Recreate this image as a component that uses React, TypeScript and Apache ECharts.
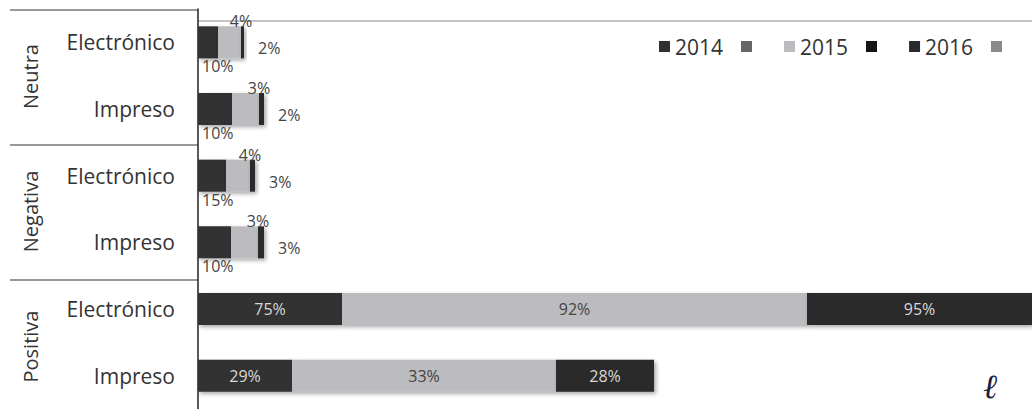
import React, { useEffect, useRef } from "react";
import * as echarts from "echarts";

// Categories (top to bottom)
const groups = ["Neutra", "Negativa", "Positiva"];
const categories = ["Electrónico", "Impreso", "Electrónico", "Impreso", "Electrónico", "Impreso"];
const seriesNames = ["2014", "2015", "2016"];

// Segment lengths (arbitrary units)
const len2014 = [20, 34, 28, 33, 144, 94];
const len2015 = [23, 27, 24, 27, 465, 264];
const len2016 = [3, 5, 5, 6, 242, 98];

// Printed percentage labels
const pct2014 = [10, 10, 15, 10, 75, 29];
const pct2015 = [4, 3, 4, 3, 92, 33];
const pct2016 = [2, 2, 3, 3, 95, 28];

const lens = [len2014, len2015, len2016];
const pcts = [pct2014, pct2015, pct2016];

const FONT = "Open Sans";
const colors = ["#303033", "#bcbcc0", "#2a2a2c"];
const blankColors = ["#666666", "#151515", "#8a8a8a"];
const insideLabelColors = ["#d8d8d8", "#444444", "#d8d8d8"];

const W = 1032;
const H = 409;
const GRID_LEFT = 198;
const GRID_TOP = 9;
const GRID_H = 405;
const X_MAX = W - GRID_LEFT;
const LEGEND_LEFT = 654;
const LEGEND_STEP = 125;

function smallLabel(si: number) {
  const base = { show: true, color: "#444", fontSize: 16, fontFamily: FONT };
  if (si === 0) {
    return { ...base, position: [4, "100%"], align: "left", verticalAlign: "top" };
  }
  if (si === 1) {
    return { ...base, position: ["100%", 0], align: "center", verticalAlign: "bottom", offset: [0, 3] };
  }
  return { ...base, position: "right", distance: 14, offset: [0, 6] };
}

export default function App() {
  const ref = useRef<HTMLDivElement>(null);

  useEffect(() => {
    document.body.style.margin = "0";
    const chart = echarts.init(ref.current!, null, { renderer: "svg" });

    const series: any[] = seriesNames.map((name, si) => ({
      name,
      type: "bar",
      stack: "total",
      barWidth: 32,
      itemStyle: {
        color: colors[si],
        shadowColor: "rgba(0,0,0,0.35)",
        shadowBlur: 4,
        shadowOffsetX: 2,
        shadowOffsetY: 2,
      },
      label: {
        show: true,
        formatter: (p: any) => pcts[si][p.dataIndex] + "%",
      },
      data: lens[si].map((v) => ({
        value: v,
        label:
          v < 60
            ? smallLabel(si)
            : {
                show: true,
                position: "inside",
                color: insideLabelColors[si],
                fontSize: 16,
                fontFamily: FONT,
              },
      })),
    }));

    const band = GRID_H / categories.length;
    const graphics: any[] = [];
    for (let k = 0; k < groups.length; k++) {
      const y = GRID_TOP + 1 + k * band * 2;
      graphics.push({
        type: "line",
        shape: { x1: 10, y1: y, x2: GRID_LEFT, y2: y },
        style: { stroke: "#333", lineWidth: 1.2 },
      });
      graphics.push({
        type: "text",
        x: 30,
        y: GRID_TOP + band * (2 * k + 1),
        rotation: Math.PI / 2,
        style: {
          text: groups[k],
          fontSize: 20,
          fontFamily: FONT,
          fill: "#333",
          textAlign: "center",
          textVerticalAlign: "middle",
        },
      });
    }
    // unnamed legend swatches that follow each named entry
    blankColors.forEach((c, i) => {
      graphics.push({
        type: "rect",
        shape: { x: LEGEND_LEFT + 87 + i * LEGEND_STEP, y: 41, width: 11, height: 11 },
        style: { fill: c },
      });
    });
    graphics.push({
      type: "line",
      shape: { x1: GRID_LEFT, y1: 21, x2: W, y2: 21 },
      style: { stroke: "#8a8a8a", lineWidth: 1 },
    });
    graphics.push({
      type: "text",
      x: 990,
      y: 386,
      style: {
        text: "ℓ",
        fontSize: 34,
        fontStyle: "italic",
        fontFamily: "DejaVu Serif",
        fill: "#1c1c40",
        textAlign: "center",
        textVerticalAlign: "middle",
      },
    });

    chart.setOption({
      animation: false,
      backgroundColor: "#ffffff",
      legend: {
        data: seriesNames,
        left: LEGEND_LEFT,
        top: 31,
        width: 420,
        icon: "rect",
        itemWidth: 11,
        itemHeight: 11,
        itemGap: 61,
        selectedMode: false,
        textStyle: { fontSize: 21, fontFamily: FONT, color: "#333" },
      },
      grid: { left: GRID_LEFT, top: GRID_TOP, height: GRID_H, right: 0, containLabel: false },
      xAxis: {
        type: "value",
        min: 0,
        max: X_MAX,
        show: false,
        splitLine: { show: false },
      },
      yAxis: {
        type: "category",
        inverse: true,
        data: categories,
        axisLine: { show: true, lineStyle: { color: "#222", width: 1.5 } },
        axisTick: { show: false },
        axisLabel: {
          margin: 23,
          fontSize: 21,
          fontFamily: FONT,
          color: "#333",
        },
      },
      graphic: graphics,
      series,
    });

    return () => chart.dispose();
  }, []);

  return <div ref={ref} style={{ width: W, height: H }} />;
}
